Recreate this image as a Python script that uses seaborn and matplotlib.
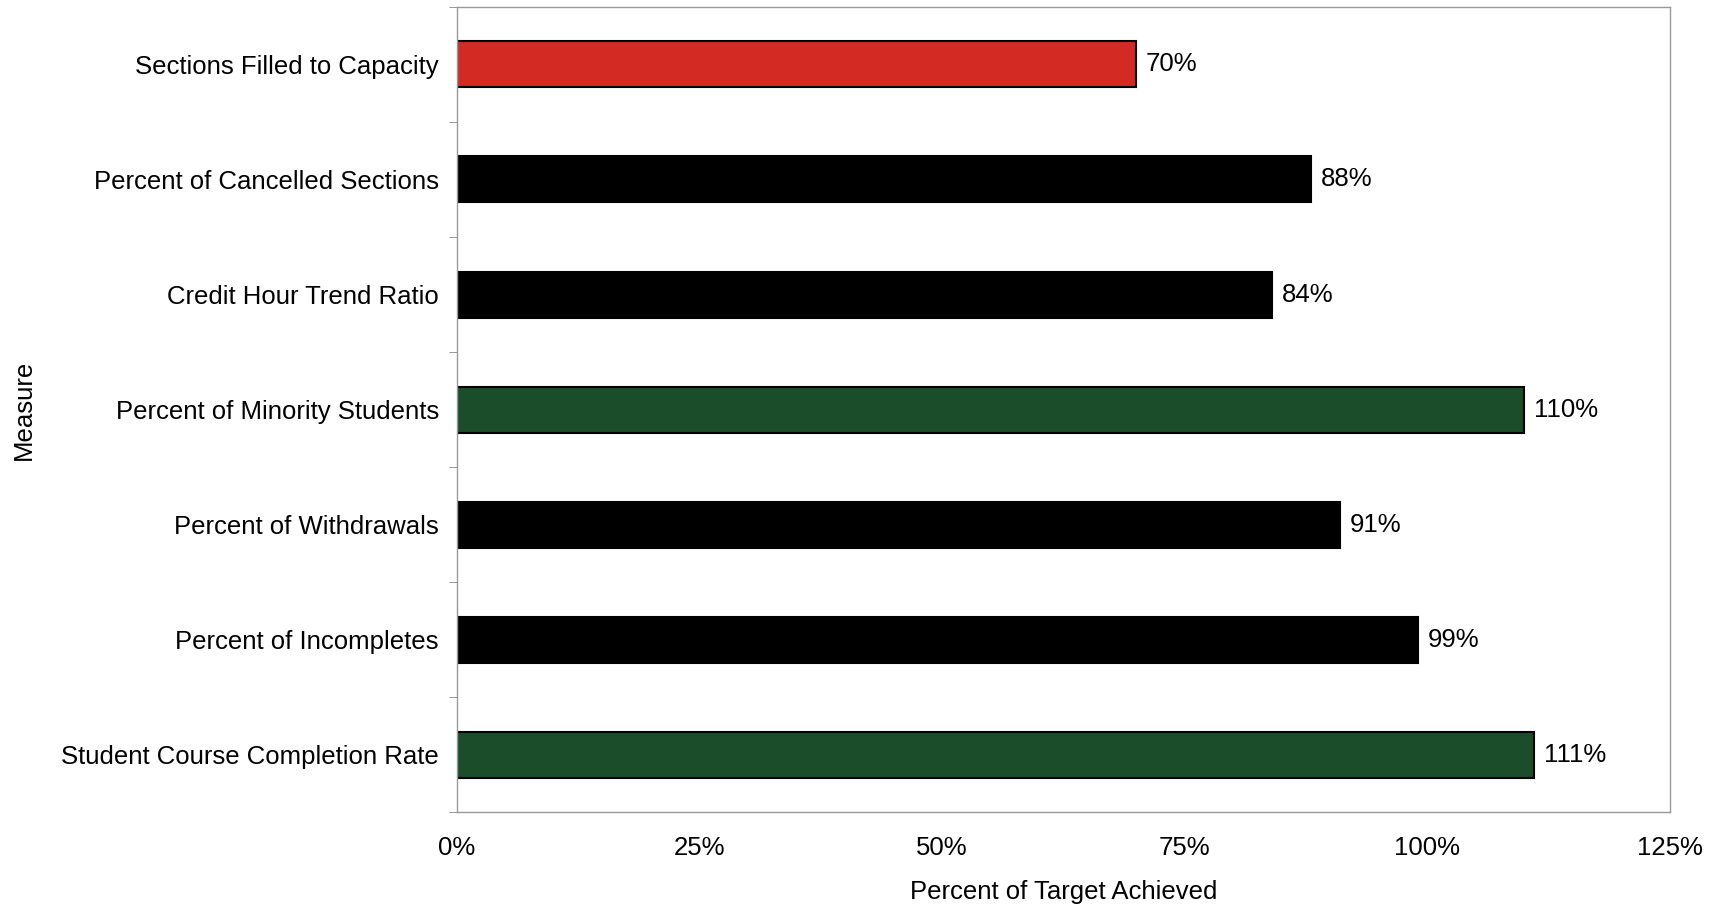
import numpy as np
import pandas as pd
import seaborn as sns
import matplotlib.pyplot as plt
from matplotlib.ticker import PercentFormatter, FixedLocator

# data
measures = ['Sections Filled to Capacity', 'Percent of Cancelled Sections',
            'Credit Hour Trend Ratio', 'Percent of Minority Students',
            'Percent of Withdrawals', 'Percent of Incompletes',
            'Student Course Completion Rate']
pct_target = [70, 88, 84, 110, 91, 99, 111]
bar_colors = ['#D42A24', '#000000', '#000000', '#1B4D2B', '#000000', '#000000', '#1B4D2B']

df = pd.DataFrame({'Measure': measures, 'Pct': pct_target})

sns.set_style('white')
plt.rcParams['font.family'] = ['Liberation Sans', 'DejaVu Sans']
plt.rcParams['text.color'] = 'black'
plt.rcParams['axes.labelcolor'] = 'black'
plt.rcParams['xtick.labelcolor'] = 'black'
plt.rcParams['ytick.labelcolor'] = 'black'

fs = 18.5

fig = plt.figure(figsize=(17.2, 9.07), dpi=100)
ax = fig.add_axes([0.2657, 0.1047, 0.7052, 0.8876])

sns.barplot(data=df, y='Measure', x='Pct', hue='Measure', palette=bar_colors,
            order=measures, hue_order=measures, width=0.4, legend=False,
            saturation=1, edgecolor='black', linewidth=1.5, ax=ax, orient='h')

for cont in ax.containers:
    ax.bar_label(cont, fmt='%d%%', padding=7, fontsize=fs)

ax.set_xlim(0, 125)
ax.set_ylim(len(measures) - 0.5, -0.5)
ax.set_xticks([0, 25, 50, 75, 100, 125])
ax.xaxis.set_major_formatter(PercentFormatter(decimals=0))
ax.tick_params(axis='x', direction='in', length=6, color='#888888', labelsize=fs, pad=17)

# Excel-style ticks on the category boundaries
ax.set_yticks(range(len(measures)))
ax.set_yticklabels(measures)
ax.yaxis.set_minor_locator(FixedLocator(np.arange(-0.5, len(measures), 1)))
ax.tick_params(axis='y', which='major', length=0, labelsize=fs, pad=13)
ax.tick_params(axis='y', which='minor', direction='out', length=6, color='#888888', left=True)

for s in ax.spines.values():
    s.set_color('#999999')
    s.set_linewidth(1)

ax.set_xlabel('Percent of Target Achieved', fontsize=fs)
ax.set_ylabel('Measure', fontsize=fs)
ax.xaxis.set_label_coords(0.5, -0.099)
ax.xaxis.label.set_va('center')
ax.yaxis.set_label_coords(-0.357, 0.5)
ax.yaxis.label.set_va('center')

fig.savefig('out.png', dpi=100)
